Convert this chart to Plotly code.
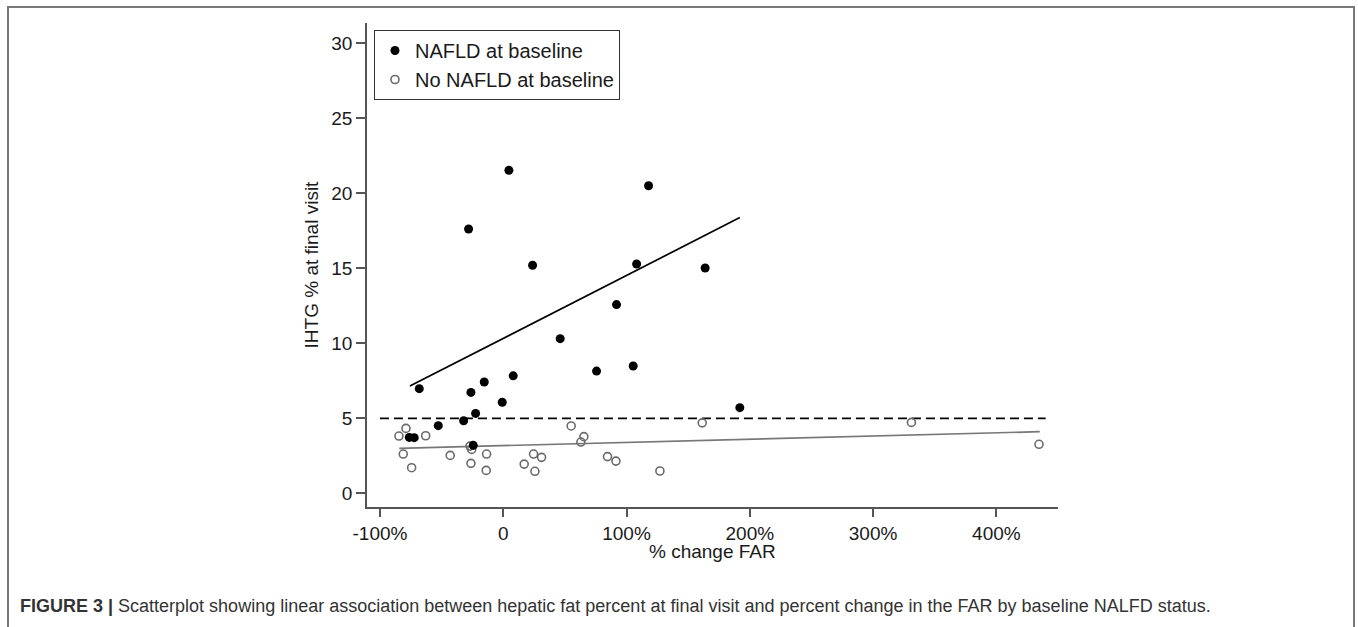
import plotly.graph_objects as go

# NAFLD at baseline (filled black): % change FAR, IHTG % at final visit
nafld_x = [4.6, 117.9, -28.1, 23.8, 108.2, 163.8, 91.9, 46.2, 75.7, 105.4,
           8.1, -15.4, -68.1, -26.2, -0.8, -22.4, -32.1, -52.7, -76.2, -72.2,
           -24.3, 191.9]
nafld_y = [21.53, 20.5, 17.62, 15.2, 15.29, 15.02, 12.58, 10.31, 8.15, 8.49,
           7.83, 7.42, 6.98, 6.73, 6.07, 5.33, 4.84, 4.51, 3.73, 3.71,
           3.2, 5.71]

# No NAFLD at baseline (hollow grey)
no_x = [-84.6, -78.9, -62.9, -81.1, -74.3, -43.0, -27.0, -25.6, -13.5, -26.2,
        -13.8, 17.0, 24.6, 31.1, 25.7, 55.1, 65.4, 63.0, 84.6, 91.4,
        127.1, 161.4, 331.1, 434.6]
no_y = [3.82, 4.33, 3.84, 2.62, 1.71, 2.53, 3.15, 2.93, 2.62, 2.0,
        1.53, 1.95, 2.62, 2.4, 1.47, 4.49, 3.78, 3.42, 2.45, 2.15,
        1.49, 4.7, 4.73, 3.27]

# Fitted lines (endpoints)
fit_nafld_x = [-75.7, 191.9]
fit_nafld_y = [7.15, 18.38]
fit_no_x = [-84.3, 435.2]
fit_no_y = [3.0, 4.11]

# Threshold line
thresh_x = [-100, 440]
thresh_y = [5, 5]

x_ticks = [-100, 0, 100, 200, 300, 400]
x_tick_labels = ["-100%", "0", "100%", "200%", "300%", "400%"]
y_ticks = [0, 5, 10, 15, 20, 25, 30]

x_title = "% change FAR"
y_title = "IHTG % at final visit"
caption = ("<b>FIGURE 3 |</b> Scatterplot showing linear association between hepatic fat "
           "percent at final visit and percent change in the FAR by baseline NALFD status.")

fig = go.Figure()

fig.add_trace(go.Scatter(x=thresh_x, y=thresh_y, mode="lines",
                         line=dict(color="black", width=1.6, dash="9px,5px"),
                         showlegend=False, hoverinfo="skip"))
fig.add_trace(go.Scatter(x=fit_no_x, y=fit_no_y, mode="lines",
                         line=dict(color="#777777", width=1.7),
                         showlegend=False, hoverinfo="skip"))
fig.add_trace(go.Scatter(x=fit_nafld_x, y=fit_nafld_y, mode="lines",
                         line=dict(color="black", width=1.7),
                         showlegend=False, hoverinfo="skip"))
fig.add_trace(go.Scatter(x=no_x, y=no_y, mode="markers", name="No NAFLD at baseline",
                         legendrank=2,
                         marker=dict(symbol="circle-open", size=8, color="#6a6a6a",
                                     line=dict(width=1.6, color="#6a6a6a"))))
fig.add_trace(go.Scatter(x=nafld_x, y=nafld_y, mode="markers", name="NAFLD at baseline",
                         legendrank=1,
                         marker=dict(symbol="circle", size=9, color="black",
                                     line=dict(width=0))))

axis_font = dict(family="Arial, Liberation Sans, sans-serif", size=19, color="#1a1a1a")

fig.update_layout(
    width=1358, height=627,
    margin=dict(l=367, r=300, t=23, b=120),
    paper_bgcolor="white", plot_bgcolor="white",
    font=axis_font,
    showlegend=True,
    legend=dict(x=0.0101, y=0.9855, xanchor="left", yanchor="top",
                bordercolor="#333333", borderwidth=1, bgcolor="white",
                font=dict(family="Arial, Liberation Sans, sans-serif", size=20, color="#1a1a1a"),
                itemwidth=30, tracegroupgap=0),
    xaxis=dict(range=[-110.5, 450], tickvals=x_ticks, ticktext=x_tick_labels,
               showline=True, linecolor="#555555", linewidth=1.5,
               ticks="outside", ticklen=8, tickwidth=1.5, tickcolor="#555555",
               showgrid=False, zeroline=False),
    yaxis=dict(range=[-0.91, 31.35], tickvals=y_ticks,
               showline=True, linecolor="#555555", linewidth=1.5,
               ticks="outside", ticklen=9, tickwidth=1.5, tickcolor="#555555",
               showgrid=False, zeroline=False,
               title=dict(text=y_title, standoff=8, font=axis_font)),
    annotations=[
        dict(text=x_title, xref="paper", yref="paper", x=0.5, y=(507 - 551) / 484,
             xanchor="center", yanchor="middle", showarrow=False, font=axis_font),
        dict(text=caption, xref="paper", yref="paper",
             x=(18 - 367) / 691, y=(507 - 606) / 484,
             xanchor="left", yanchor="middle", showarrow=False,
             font=dict(family="Arial, Liberation Sans, sans-serif", size=18,
                       color="#333333"))],
    shapes=[dict(type="rect", xref="paper", yref="paper",
                 x0=(8 - 367) / 691, x1=(1354 - 367) / 691,
                 y0=(507 - 640) / 484, y1=(507 - 7) / 484,
                 line=dict(color="#777777", width=2), fillcolor="rgba(0,0,0,0)",
                 layer="below")],
)

fig.write_html("out.html")
